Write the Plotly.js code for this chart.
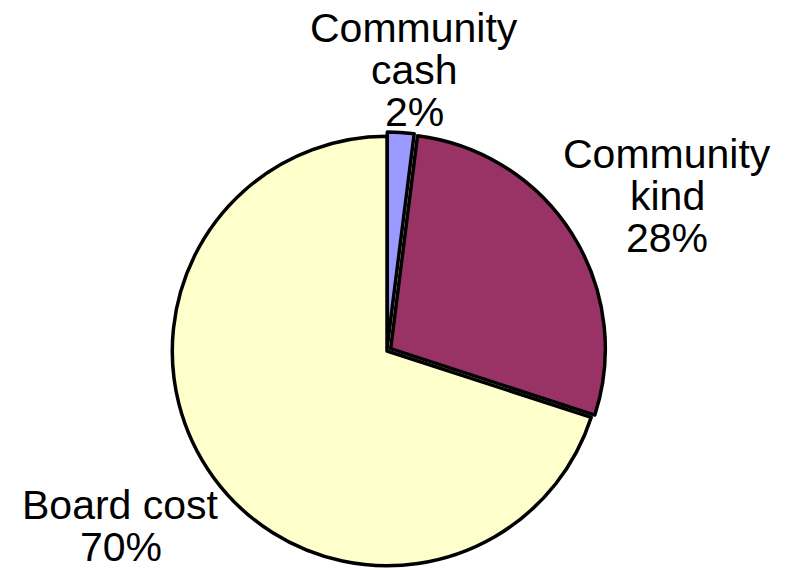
<!DOCTYPE html>
<html>
<head>
<meta charset="utf-8">
<script src="https://cdn.plot.ly/plotly-3.0.1.min.js"></script>
<style>html,body{margin:0;padding:0;background:#fff;}#chart{width:786px;height:570px;}</style>
</head>
<body>
<div id="chart"></div>
<script>
// Data
var categories = ["Community cash", "Community kind", "Board cost"];
var labelLines = [["Community", "cash"], ["Community", "kind"], ["Board cost"]];
var shares = [2, 28, 70];
var sliceColors = ["#9999FF", "#993366", "#FFFFCC"];

// Label placement (layout, paper pixels from top-left: centre x, first baseline y)
var labelPos = [[414, 42], [667, 168], [121, 519]];
var lineStep = 42;
var fontSize = 41;

var W = 786, H = 570;
var annotations = [];
labelPos.forEach(function (p, i) {
  var lines = labelLines[i].concat([shares[i] + "%"]);
  lines.forEach(function (t, j) {
    var base = p[1] + j * lineStep;
    annotations.push({
      xref: "paper", yref: "paper",
      x: p[0] / W,
      y: 1 - (base - 0.33 * fontSize) / H,
      xanchor: "center", yanchor: "middle",
      text: t, showarrow: false,
      font: {family: "Liberation Sans, Arial, sans-serif", size: fontSize, color: "#000"}
    });
  });
});

var trace = {
  type: "pie",
  labels: categories,
  values: shares,
  sort: false,
  direction: "clockwise",
  rotation: 0,
  pull: [0.02, 0.02, 0],
  marker: {colors: sliceColors, line: {color: "#000", width: 3.5}},
  textinfo: "none",
  hoverinfo: "skip",
  domain: {x: [168 / W, 606 / W], y: [0, 438 / H]}
};

var layout = {
  width: W, height: H,
  margin: {l: 0, r: 0, t: 0, b: 0},
  paper_bgcolor: "#fff",
  showlegend: false,
  annotations: annotations
};

Plotly.newPlot("chart", [trace], layout, {displayModeBar: false, staticPlot: true});
</script>
</body>
</html>
